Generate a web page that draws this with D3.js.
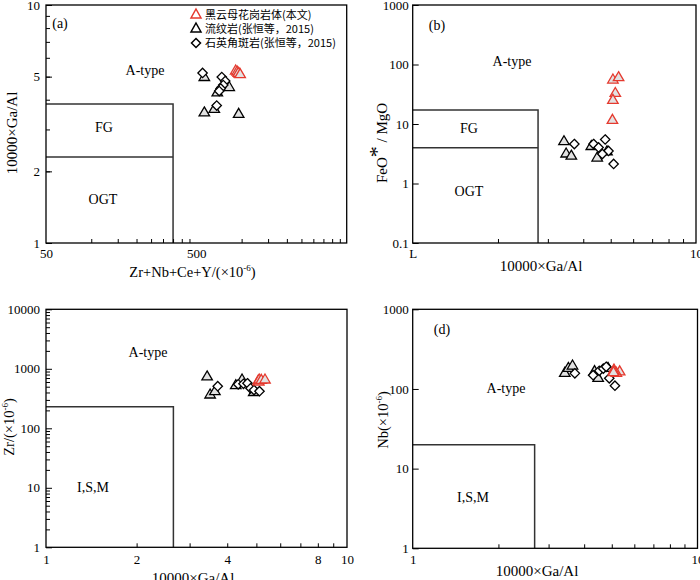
<!DOCTYPE html>
<html><head><meta charset="utf-8">
<script src="https://cdn.jsdelivr.net/npm/d3@7"></script>
<style>body{margin:0;background:#fff} svg{display:block}</style>
</head><body><svg id="c" width="700" height="580"></svg>
<script>
// ---------- DATA ----------
const seriesNames = ["黑云母花岗岩体(本文)", "流纹岩(张恒等，2015)", "石英角斑岩(张恒等，2015)"];

// (a) x: Zr+Nb+Ce+Y (10^-6), y: 10000×Ga/Al
const aGranite  = [[913,5.28],[934,5.23],[964,5.13],[950,5.16],[978,5.10]];
const aRhyolite = [[565,4.96],[827,4.50],[689,4.27],[565,3.52],[658,3.64],[956,3.47]];
const aPorphyry = [[550,5.18],[738,4.98],[778,4.79],[755,4.61],[726,4.46],[710,4.35],[683,3.78]];

// (b) x: 10000×Ga/Al, y: FeO*/MgO
const bGranite  = [[5.09,54.8],[5.33,60],[5.19,32.6],[5.09,25],[5.07,11.5]];
const bRhyolite = [[3.42,5.04],[3.48,3.13],[3.63,2.88],[4.27,4.19],[4.48,2.68],[4.85,3.42]];
const bPorphyry = [[3.72,4.61],[4.35,4.61],[4.53,4.03],[4.78,5.49],[4.91,3.52],[5.12,2.13],[4.67,3.13]];

// (c) x: 10000×Ga/Al, y: Zr (10^-6)
const cGranite  = [[5.07,620],[5.09,600],[5.11,648],[5.19,640],[5.34,648]];
const cRhyolite = [[3.43,730],[3.51,363],[3.64,412],[4.27,520],[4.48,648],[4.90,400]];
const cPorphyry = [[3.72,510],[4.35,549],[4.53,560],[4.67,571],[4.78,470],[4.91,440],[5.12,420]];

// (d) x: 10000×Ga/Al, y: Nb (10^-6)
const dGranite  = [[5.09,173],[5.33,164],[5.19,157],[5.09,165],[5.07,160]];
const dRhyolite = [[3.42,157],[3.52,181],[3.64,194],[4.35,165],[4.48,136],[4.85,181]];
const dPorphyry = [[3.71,157],[4.30,149],[4.52,169],[4.67,180],[4.78,190],[4.90,136],[5.13,110]];

// discrimination field boundaries
const aFieldX = 350, aFGTop = 3.84, aOGTTop = 2.3;
const bFieldX = 2.77, bFGTop = 17.2, bOGTTop = 4.0;
const cFieldX = 2.65, cFieldTop = 230;
const dFieldX = 2.68, dFieldTop = 20;

// tick values
const aXMinor = [100,150,200,250,300,350,400,450,1000,1500,2000,2500,3000,3500,4000,4500];
const aXLabels = [50,500];
const aYMinor = [2,3,4,5,6,7,8,9];
const aYLabels = [1,2,5,10];
const gaMinor = [2,3,4,5,6,7,8,9];
const bXLabels = [[1,"L"],[10,"10"]];
const bYLabels = [0.1,1,10,100,1000];
const cXLabels = [1,2,4,8,10];
const cYLabels = [1,10,100,1000,10000];
const cYMinor = [1,10,100,1000].flatMap(d => [2,3,4,5,6,7,8,9].map(k => k*d));
const dXLabels = [1,10];
const dYLabels = [1,10,100,1000];

// ---------- DRAW ----------
const svg = d3.select("#c");
const SERIF = "'Liberation Serif','Times New Roman',serif";
const CJK = "'Noto Sans CJK SC','Liberation Serif',sans-serif";
const RED = "#e5392e";
const TRIFILL = "#e2e2e2";

function triPath(cx, cy, w, h) {
  return `M${cx},${cy - 2*h/3}L${cx + w/2},${cy + h/3}L${cx - w/2},${cy + h/3}Z`;
}
function diaPath(cx, cy, r) {
  return `M${cx},${cy - r}L${cx + r},${cy}L${cx},${cy + r}L${cx - r},${cy}Z`;
}

function panel(p) {
  const x = d3.scaleLog().domain(p.xDomain).range([p.left, p.right]);
  const y = d3.scaleLog().domain(p.yDomain).range([p.bottom, p.top]);
  const g = svg.append("g");

  g.selectAll("path.field").data(p.fields).join("path")
    .attr("class","field")
    .attr("d", seg => d3.line().x(d => x(d[0])).y(d => y(d[1]))(seg))
    .attr("fill","none").attr("stroke","#333").attr("stroke-width",1.5);

  const tx = g.append("g").attr("transform",`translate(0,${p.bottom})`)
    .call(d3.axisBottom(x).tickValues(p.xMinor).tickSize(-4).tickFormat(""));
  tx.select(".domain").remove();
  if (p.yMinor) {
    const ty = g.append("g").attr("transform",`translate(${p.left},0)`)
      .call(d3.axisLeft(y).tickValues(p.yMinor).tickSize(-4).tickFormat(""));
    ty.select(".domain").remove();
  }
  const tyM = g.append("g").attr("transform",`translate(${p.left},0)`)
    .call(d3.axisLeft(y).tickValues(p.yLabels).tickSize(-6).tickFormat(""));
  tyM.select(".domain").remove();

  const lx = g.append("g").attr("transform",`translate(0,${p.bottom})`)
    .call(d3.axisBottom(x).tickValues(p.xLabels.map(d => Array.isArray(d) ? d[0] : d))
      .tickSize(0).tickPadding(p.xPad)
      .tickFormat((d,i) => { const v = p.xLabels[i]; return Array.isArray(v) ? v[1] : String(v); }));
  lx.select(".domain").remove();
  lx.selectAll("text").attr("font-family",SERIF).attr("font-size",13).attr("fill","#000");
  const ly = g.append("g").attr("transform",`translate(${p.left},0)`)
    .call(d3.axisLeft(y).tickValues(p.yLabels).tickSize(0).tickPadding(p.yPad)
      .tickFormat(d => String(d)));
  ly.select(".domain").remove();
  ly.selectAll("text").attr("font-family",SERIF).attr("font-size",13).attr("fill","#000");

  g.append("rect").attr("x",p.left).attr("y",p.top)
    .attr("width",p.right-p.left).attr("height",p.bottom-p.top)
    .attr("fill","none").attr("stroke","#000").attr("stroke-width",1.3);

  p.texts.forEach(t => {
    g.append("text").attr("x",t[0]).attr("y",t[1]).attr("text-anchor",t[3]||"middle")
      .attr("font-family",SERIF).attr("font-size",14).text(t[2]);
  });

  g.selectAll("path.rhy").data(p.rhy).join("path").attr("class","rhy")
    .attr("d", d => triPath(x(d[0]), y(d[1]), 10.5, 9))
    .attr("fill",TRIFILL).attr("stroke","#000").attr("stroke-width",1.3);
  g.selectAll("path.por").data(p.por).join("path").attr("class","por")
    .attr("d", d => diaPath(x(d[0]), y(d[1]), 4.7))
    .attr("fill","#fff").attr("stroke","#000").attr("stroke-width",1.3);
  g.selectAll("path.gra").data(p.gra).join("path").attr("class","gra")
    .attr("d", d => triPath(x(d[0]), y(d[1]), 10.5, 9))
    .attr("fill",TRIFILL).attr("stroke",RED).attr("stroke-width",1.3);
  return {x, y, g};
}

panel({
  left:46, right:346.7, top:5, bottom:243,
  xDomain:[50,5000], yDomain:[1,10],
  fields:[[[50,aFGTop],[aFieldX,aFGTop],[aFieldX,1]],[[50,aOGTTop],[aFieldX,aOGTTop]]],
  xMinor:aXMinor, yMinor:aYMinor, xLabels:aXLabels, yLabels:aYLabels, xPad:6, yPad:6,
  texts:[[60,28,"(a)"],[145,75,"A-type"],[104,132,"FG"],[103,204,"OGT"]],
  rhy:aRhyolite, por:aPorphyry, gra:aGranite
});
panel({
  left:412.7, right:696, top:5, bottom:243,
  xDomain:[1,10], yDomain:[0.1,1000],
  fields:[[[1,bFGTop],[bFieldX,bFGTop],[bFieldX,0.1]],[[1,bOGTTop],[bFieldX,bOGTTop]]],
  xMinor:gaMinor, yMinor:null, xLabels:bXLabels, yLabels:bYLabels, xPad:6, yPad:4,
  texts:[[437,30,"(b)"],[512,66,"A-type"],[469,133,"FG"],[469,196,"OGT"]],
  rhy:bRhyolite, por:bPorphyry, gra:bGranite
});
panel({
  left:46, right:347, top:309.3, bottom:547.3,
  xDomain:[1,10], yDomain:[1,10000],
  fields:[[[1,cFieldTop],[cFieldX,cFieldTop],[cFieldX,1]]],
  xMinor:gaMinor, yMinor:cYMinor, xLabels:cXLabels, yLabels:cYLabels, xPad:7, yPad:6,
  texts:[[148,357,"A-type"],[93,492,"I,S,M"]],
  rhy:cRhyolite, por:cPorphyry, gra:cGranite
});
panel({
  left:412.7, right:697.5, top:309.3, bottom:548.3,
  xDomain:[1,10], yDomain:[1,1000],
  fields:[[[1,dFieldTop],[dFieldX,dFieldTop],[dFieldX,1]]],
  xMinor:gaMinor, yMinor:null, xLabels:dXLabels, yLabels:dYLabels, xPad:6, yPad:4,
  texts:[[442,334,"(d)"],[506,393,"A-type"],[473,502,"I,S,M"]],
  rhy:dRhyolite, por:dPorphyry, gra:dGranite
});

function title(xp, yp, rot, parts, size) {
  const t = svg.append("text").attr("font-family",SERIF).attr("font-size",size)
    .attr("text-anchor","middle")
    .attr("transform",`translate(${xp},${yp})${rot ? " rotate(-90)" : ""}`);
  parts.forEach(pt => {
    const s = t.append("tspan").text(pt.t);
    if (pt.dy) s.attr("dy",pt.dy);
    if (pt.fs) s.attr("font-size",pt.fs);
    if (pt.ff) s.attr("font-family",pt.ff);
  });
  return t;
}
title(17, 133, true, [{t:"10000×Ga/Al"}], 15);
title(192.5, 277, false, [{t:"Zr+Nb+Ce+Y/(×10"},{t:"-6",dy:-6,fs:9},{t:")",dy:6}], 14.5);
title(387, 143, true, [{t:"FeO"},{t:"*",dy:-3,fs:22,ff:SERIF},{t:" / MgO",dy:3}], 15);
title(541, 271, false, [{t:"10000×Ga/Al"}], 15);
title(14, 427, true, [{t:"Zr/(×10"},{t:"-6",dy:-6,fs:9},{t:")",dy:6}], 14.5);
title(193, 583, false, [{t:"10000×Ga/Al"}], 15);
title(388, 420, true, [{t:"Nb(×10"},{t:"-6",dy:-6,fs:9},{t:")",dy:6}], 14.5);
title(537, 576, false, [{t:"10000×Ga/Al"}], 15);

const legend = svg.append("g");
const legRows = [
  {name:seriesNames[0], type:"tri", color:RED},
  {name:seriesNames[1], type:"tri", color:"#000"},
  {name:seriesNames[2], type:"dia", color:"#000"}
];
legRows.forEach((r,i) => {
  const cy = 15 + i*14;
  legend.append("path")
    .attr("d", r.type === "tri" ? triPath(196, cy, 10, 9) : diaPath(196, cy, 4.5))
    .attr("fill","#fff").attr("stroke",r.color).attr("stroke-width",1.5);
  legend.append("text").attr("x",205).attr("y",cy+4)
    .attr("font-family",CJK).attr("font-size",11).text(r.name);
});
</script>
</body></html>
